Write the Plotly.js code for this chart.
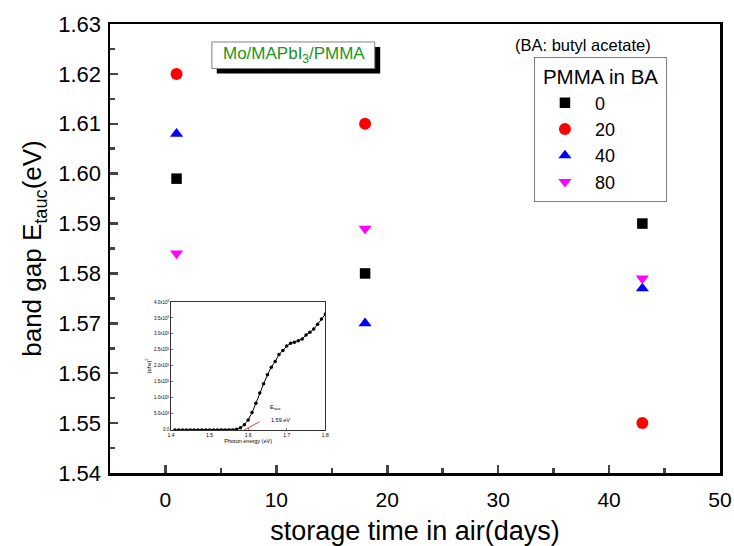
<!DOCTYPE html>
<html>
<head>
<meta charset="utf-8">
<script src="https://cdn.plot.ly/plotly-3.0.1.min.js"></script>
<style>html,body{margin:0;padding:0;background:#fff;}#chart{width:734px;height:546px;}</style>
</head>
<body>
<div id="chart"></div>
<script>
// Main chart data
const days = [1, 18, 43];
const pmma0 = [1.599, 1.580, 1.590];
const pmma20 = [1.620, 1.610, 1.550];
const pmma40 = [1.608, 1.570, 1.577];
const pmma80 = [1.584, 1.589, 1.579];
const seriesNames = ['0', '20', '40', '80'];

// Inset (Tauc plot) data
const photonEnergy = [1.41,1.42,1.43,1.44,1.45,1.46,1.47,1.48,1.49,1.50,1.51,1.52,1.53,1.54,1.55,1.56,1.57,1.58,1.59,1.60,1.61,1.62,1.63,1.64,1.65,1.66,1.67,1.68,1.69,1.70,1.71,1.72,1.73,1.74,1.75,1.76,1.77,1.78,1.79,1.80];
const ahv2 = [0,0,0,0,0,0,0,0,0,0,0,0,0,0,0,0,2000,7000,16000,31000,54000,83000,115000,144000,172000,196000,214000,236000,248000,262000,271000,274000,279000,284000,297000,305000,315000,330000,347000,362000];
const insetYTicks = [0, 50000, 100000, 150000, 200000, 250000, 300000, 350000, 400000];
const insetYTickText = ['0.0','5.0x10<sup>4</sup>','1.0x10<sup>5</sup>','1.5x10<sup>5</sup>','2.0x10<sup>5</sup>','2.5x10<sup>5</sup>','3.0x10<sup>5</sup>','3.5x10<sup>5</sup>','4.0x10<sup>5</sup>'];
const insetXTicks = [1.4, 1.5, 1.6, 1.7, 1.8];
const etauc = 1.59;

const FONT = 'Liberation Sans, Arial, sans-serif';

const traces = [
  {x: days, y: pmma0, name: seriesNames[0], mode: 'markers', type: 'scatter',
   marker: {symbol: 'square', size: 10.5, color: '#000000'}},
  {x: days, y: pmma20, name: seriesNames[1], mode: 'markers', type: 'scatter',
   marker: {symbol: 'circle', size: 12, color: '#ff0000'}},
  {x: days, y: pmma40, name: seriesNames[2], mode: 'markers', type: 'scatter',
   marker: {symbol: 'triangle-up', size: 11.5, color: '#0000ff'}},
  {x: days, y: pmma80, name: seriesNames[3], mode: 'markers', type: 'scatter',
   marker: {symbol: 'triangle-down', size: 11.5, color: '#ff00ff'}},
  {x: photonEnergy, y: ahv2, xaxis: 'x2', yaxis: 'y2', mode: 'lines+markers', type: 'scatter',
   showlegend: false, line: {color: '#000', width: 1}, marker: {size: 3.5, color: '#000'}}
];

const layout = {
  width: 734, height: 546,
  margin: {l: 110, r: 14, t: 24, b: 73},
  paper_bgcolor: '#fff', plot_bgcolor: '#fff',
  font: {family: FONT, color: '#000'},
  showlegend: true,
  legend: {
    x: 0.695, y: 0.927, xanchor: 'left', yanchor: 'top',
    bgcolor: '#fff', bordercolor: '#808080', borderwidth: 1,
    font: {size: 18, family: FONT},
    title: {text: '\u00a0PMMA in BA\u00a0', side: 'top center', font: {size: 20.5, family: FONT}},
    itemwidth: 50
  },
  xaxis: {
    range: [-5, 50], tick0: 0, dtick: 10, ticks: 'inside', ticklen: 8, tickwidth: 2.5,
    showline: true, linewidth: 2.5, linecolor: '#000', mirror: true,
    showgrid: false, zeroline: false,
    tickfont: {size: 21, family: FONT}, ticklabelstandoff: 6,
    minor: {dtick: 5, ticks: 'inside', ticklen: 5, tickwidth: 2.5, showgrid: false},
    title: {text: 'storage time in air(days)', font: {size: 27, family: FONT}, standoff: 18}
  },
  yaxis: {
    range: [1.54, 1.63], tick0: 1.54, dtick: 0.01, tickformat: '.2f',
    ticks: 'inside', ticklen: 8, tickwidth: 2.5,
    showline: true, linewidth: 2.5, linecolor: '#000', mirror: true,
    showgrid: false, zeroline: false,
    tickfont: {size: 22, family: FONT}, ticklabelstandoff: 2,
    minor: {dtick: 0.005, ticks: 'inside', ticklen: 5, tickwidth: 2.5, showgrid: false},
    title: {text: 'band gap E<sub>tauc</sub>(eV)', font: {size: 26, family: FONT}, standoff: 9}
  },
  xaxis2: {
    domain: [0.100, 0.353], anchor: 'y2', range: [1.4, 1.8],
    tickvals: insetXTicks, tickformat: '.1f', ticks: 'inside', ticklen: 2, tickwidth: 0.7,
    showline: true, linewidth: 0.8, linecolor: '#000', mirror: true,
    showgrid: false, zeroline: false, tickfont: {size: 5, family: FONT},
    title: {text: 'Photon energy (eV)', font: {size: 5.5, family: FONT}, standoff: 2}
  },
  yaxis2: {
    domain: [0.096, 0.381], anchor: 'x2', range: [0, 400000],
    tickvals: insetYTicks, ticktext: insetYTickText, ticks: 'inside', ticklen: 2, tickwidth: 0.7,
    showline: true, linewidth: 0.8, linecolor: '#000', mirror: true,
    showgrid: false, zeroline: false, tickfont: {size: 4.5, family: FONT},
    title: {text: '(αhν)<sup>2</sup>', font: {size: 5.5, family: FONT}, standoff: 2}
  },
  shapes: [
    {type: 'rect', xref: 'paper', yref: 'paper', x0: 0.175, x1: 0.443, y0: 0.890, y1: 0.949,
     fillcolor: '#000', line: {width: 0}},
    {type: 'rect', xref: 'paper', yref: 'paper', x0: 0.167, x1: 0.434, y0: 0.901, y1: 0.960,
     fillcolor: '#fff', line: {color: '#808080', width: 1}}
  ],
  annotations: [
    {xref: 'paper', yref: 'paper', x: 0.301, y: 0.931, xanchor: 'center', yanchor: 'middle',
     text: 'Mo/MAPbI<sub>3</sub>/PMMA',
     showarrow: false, font: {size: 17, color: '#1e9420', family: FONT}},
    {xref: 'paper', yref: 'paper', x: 0.775, y: 0.953, xanchor: 'center', yanchor: 'middle',
     text: '(BA: butyl acetate)',
     showarrow: false, font: {size: 16.5, color: '#000', family: FONT}},
    {xref: 'x2', yref: 'y2', x: etauc, y: 0, axref: 'x2', ayref: 'y2', ax: 1.633, ay: 28000,
     text: '', showarrow: true, arrowhead: 0, arrowcolor: '#ff0000', arrowwidth: 0.8},
    {xref: 'x2', yref: 'y2', x: 1.652, y: 70000, xanchor: 'left', text: 'E<sub>tauc</sub>',
     showarrow: false, font: {size: 5.5, family: FONT}},
    {xref: 'x2', yref: 'y2', x: 1.655, y: 32000, xanchor: 'left', text: '1.59 eV',
     showarrow: false, font: {size: 5.5, family: FONT}}
  ]
};

Plotly.newPlot('chart', traces, layout, {displayModeBar: false, staticPlot: true});
</script>
</body>
</html>
